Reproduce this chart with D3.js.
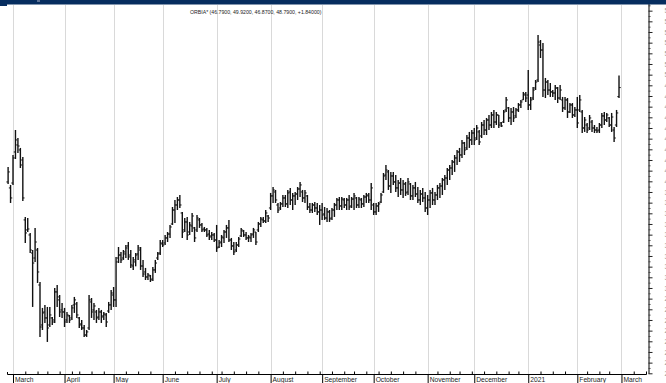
<!DOCTYPE html>
<html><head><meta charset="utf-8">
<script src="https://cdn.jsdelivr.net/npm/d3@7"></script>
<style>body{margin:0;background:#fff;overflow:hidden}svg{display:block}</style>
</head><body>
<svg id="c" width="666" height="383"></svg>
<script>
const title = "ORBIA* (46.7900, 49.9200, 46.8700, 48.7900, +1.84000)";
const firstDay = "2020-02-27";
const lastAxisDay = "2021-03-16";
const holidays = ["2020-03-16","2020-04-09","2020-04-10","2020-05-01","2020-07-03","2020-09-16","2020-11-02","2020-11-16","2020-12-25","2021-01-01","2021-02-01","2021-02-15"];
const monthLabels = ["March","April","May","June","July","August","September","October","November","December","2021","February","March"];

const opens = [
39.94,39.38,39.84,42.75,43.41,42.94,42.0,36.38,35.44,34.97,
33.28,32.81,33.56,30.28,26.53,27.75,27.19,26.53,27.19,27.0,
29.63,28.88,27.94,27.75,27.0,27.38,27.19,28.41,28.5,27.19,
26.63,26.25,25.59,26.25,28.69,27.94,27.75,27.28,27.75,27.38,
27.47,27.84,28.41,29.34,28.88,32.81,33.09,32.81,33.19,33.94,
33.09,32.06,32.44,33.19,33.56,32.06,31.5,31.03,31.13,30.84,
31.69,32.81,33.28,34.13,34.22,34.69,35.06,36.0,37.31,37.78,
38.25,37.03,35.44,36.19,35.25,35.81,35.63,35.44,36.38,35.91,
35.53,35.44,35.06,34.88,34.97,34.5,33.84,34.31,34.69,35.25,
35.63,34.5,33.94,33.56,34.03,34.88,35.34,34.97,34.69,34.69,
35.06,35.25,35.44,36.0,36.38,36.28,36.75,37.5,38.63,39.0,
37.78,37.5,37.88,38.44,37.88,39.0,38.25,38.63,38.81,39.28,
39.0,38.44,38.63,37.59,37.31,37.78,37.5,37.13,37.31,36.94,
36.56,37.13,36.56,37.31,37.78,38.25,37.69,38.25,37.78,38.25,
37.69,38.34,38.44,37.78,38.25,37.88,38.53,38.63,38.25,37.78,
37.13,37.69,38.06,39.0,40.59,40.88,39.56,40.5,39.94,39.38,
39.84,39.19,39.75,39.0,39.75,38.63,39.38,38.81,38.25,38.81,
38.44,37.5,38.25,38.91,38.25,38.72,39.38,39.56,40.13,40.31,
41.06,41.25,41.81,42.19,42.75,42.47,43.59,43.13,44.06,43.88,
44.53,44.06,44.63,44.25,45.28,44.81,45.75,45.28,46.22,45.56,
46.22,45.47,45.56,46.69,46.88,45.94,46.5,46.13,46.69,47.16,
47.63,48.09,48.09,47.16,47.81,48.75,49.5,52.78,52.31,48.56,
49.31,48.56,48.38,48.28,48.75,47.81,47.63,46.88,47.63,46.5,
47.16,46.22,46.69,46.69,46.5,45.0,45.28,45.0,45.56,45.0,
44.81,44.81,45.28,46.13,45.75,45.94,45.28,44.81,45.28,47.94];

const highs = [
41.34,39.66,42.47,44.81,44.06,43.13,42.28,36.66,36.56,35.16,
33.56,35.63,33.75,30.56,28.13,28.41,28.22,28.22,27.28,30.0,
30.28,29.34,28.59,28.13,27.75,27.47,28.41,29.16,28.69,27.28,
27.0,26.53,26.06,29.34,29.06,28.59,27.94,28.13,27.94,27.75,
27.66,28.69,29.81,30.09,32.91,33.84,33.38,33.56,34.03,34.31,
33.56,32.91,33.28,34.03,33.84,32.63,31.88,31.41,31.22,31.97,
32.63,33.38,34.5,34.5,34.97,35.25,35.91,37.59,38.25,38.53,
38.72,37.13,36.56,36.66,36.19,37.03,35.72,36.84,36.56,36.09,
35.72,35.63,35.44,35.25,35.16,35.91,34.5,34.97,35.44,35.91,
36.38,34.69,34.31,34.31,34.78,35.63,35.44,35.25,34.97,35.16,
35.63,35.25,36.19,36.66,36.66,37.31,36.84,38.91,39.47,39.19,
37.97,38.06,38.72,38.72,39.19,39.38,38.91,39.0,39.47,39.94,
39.19,39.19,38.72,37.97,37.97,38.06,37.97,37.78,37.97,37.59,
37.5,37.31,37.5,37.97,38.44,38.53,38.53,38.44,38.44,38.72,
38.53,38.91,38.53,38.53,38.44,38.72,38.91,38.91,39.84,37.97,
37.97,38.06,38.91,40.78,41.53,41.06,40.88,40.88,40.59,40.13,
40.31,40.13,39.94,40.31,39.84,39.66,39.94,39.47,39.19,39.38,
39.0,38.72,39.19,39.38,39.0,39.66,39.84,40.31,40.59,41.25,
41.53,42.0,42.47,42.94,43.13,43.88,43.69,44.34,44.63,44.81,
45.0,45.28,44.81,45.56,45.75,45.94,46.22,46.5,46.69,46.5,
46.22,45.56,46.69,47.91,46.97,46.88,46.97,46.88,47.34,47.63,
48.38,48.38,50.44,47.91,48.84,49.5,53.72,53.25,52.97,49.69,
49.5,49.22,48.56,49.03,48.84,49.03,47.91,47.91,47.81,47.34,
47.34,46.97,47.91,48.09,46.69,46.03,45.47,46.22,45.75,45.28,
45.09,45.47,46.41,46.5,46.41,46.03,46.41,45.09,46.69,49.92];

const lows = [
39.75,37.97,39.66,42.09,42.66,41.25,38.16,34.22,35.25,33.28,
28.22,32.44,30.47,25.41,26.06,26.72,24.94,26.34,26.53,26.72,
28.22,27.28,27.19,26.34,26.72,26.72,27.0,27.66,27.19,26.25,
26.06,25.41,25.41,26.06,27.19,27.0,26.72,27.0,26.72,27.0,
26.34,27.66,27.94,28.22,28.22,32.34,32.34,32.63,32.81,32.63,
31.88,31.69,32.03,32.63,31.69,31.03,30.75,30.75,30.56,30.66,
31.41,32.63,33.09,33.84,34.03,34.31,34.69,35.91,36.09,37.31,
37.5,34.69,35.25,34.5,34.97,35.25,34.31,35.25,35.63,35.25,
35.25,34.78,34.5,34.5,34.31,33.38,33.75,33.84,34.22,34.69,
34.31,33.56,33.09,33.38,33.84,34.78,34.78,34.5,34.31,34.31,
34.69,34.03,35.25,35.72,36.09,36.09,36.19,37.31,37.97,37.97,
37.03,37.31,37.59,37.59,37.5,37.78,37.31,37.78,38.25,38.53,
38.06,37.97,37.31,37.03,37.03,37.13,36.84,35.91,36.38,36.38,
36.19,36.19,36.38,36.66,37.31,37.31,37.31,37.5,37.31,37.31,
37.5,37.31,37.5,37.5,37.5,37.59,37.97,37.97,37.31,36.84,
36.84,37.13,37.97,38.91,40.13,39.19,38.91,39.66,39.0,38.53,
38.72,38.44,38.63,38.72,38.25,38.25,38.53,37.97,37.78,38.06,
37.13,36.84,37.5,37.78,37.78,38.25,38.44,38.72,39.19,39.66,
40.13,40.59,40.88,41.53,41.81,42.19,42.47,42.94,43.13,43.41,
43.41,43.88,43.41,44.06,44.34,44.34,44.81,45.0,45.0,45.28,
45.0,45.09,45.47,46.5,45.56,45.28,45.56,45.94,46.5,46.88,
47.63,47.44,46.69,46.69,47.63,48.56,49.31,51.56,47.91,47.81,
48.09,47.91,47.91,47.63,47.34,47.63,46.5,46.69,45.94,46.41,
45.94,46.03,45.0,46.5,44.53,44.63,44.53,44.81,44.63,44.53,
44.53,44.53,45.0,45.28,45.56,45.09,44.63,43.69,45.09,47.81];

const closes = [
40.88,38.44,42.19,43.88,43.31,41.53,38.44,35.16,35.53,33.56,
32.34,34.31,31.5,26.34,27.66,27.19,26.25,27.47,26.81,29.63,
29.16,27.75,27.75,26.81,27.47,27.0,28.13,28.88,27.47,26.53,
26.25,25.59,25.88,28.88,27.75,28.31,27.19,27.75,27.28,27.56,
26.81,28.41,29.53,28.88,32.44,33.09,32.63,33.38,33.75,32.91,
32.16,32.63,33.09,33.75,32.06,31.31,31.03,31.22,30.75,31.69,
32.34,33.19,34.22,34.03,34.69,35.06,35.72,37.31,37.78,38.25,
37.78,35.25,36.19,34.97,35.91,36.75,34.69,36.56,35.91,35.44,
35.44,34.97,34.78,34.97,34.5,33.75,34.22,34.78,35.25,35.63,
34.5,33.94,33.38,34.03,34.59,35.44,34.97,34.69,34.78,34.97,
35.44,34.31,36.0,36.47,36.28,37.03,36.56,38.63,39.19,38.25,
37.31,37.88,38.44,37.88,38.91,38.25,38.63,38.81,39.28,39.66,
38.44,38.91,37.59,37.31,37.78,37.5,37.13,37.31,36.84,36.56,
37.13,36.47,37.31,37.78,38.25,37.69,38.34,37.78,38.25,37.59,
38.34,38.63,37.78,38.34,37.88,38.53,38.72,38.25,39.38,37.13,
37.69,37.88,38.72,40.5,41.06,39.56,40.5,39.94,39.38,39.84,
39.19,39.75,38.91,39.94,38.63,39.38,38.81,38.25,38.81,38.44,
37.5,38.25,38.91,38.25,38.72,39.38,39.56,40.13,40.31,41.06,
41.25,41.81,42.19,42.75,42.47,43.59,42.94,44.06,43.88,44.53,
43.88,45.0,43.69,45.28,44.81,45.75,45.28,46.22,45.56,46.22,
45.28,45.19,46.5,47.63,45.94,46.5,45.94,46.69,47.16,47.44,
48.19,47.81,47.16,47.63,48.56,49.31,53.06,52.31,48.56,49.31,
48.56,48.38,48.28,48.75,47.81,48.56,46.88,47.63,46.5,47.16,
46.22,46.69,45.47,47.63,45.0,45.75,44.81,45.94,45.0,44.81,
44.72,45.28,46.13,45.75,46.22,45.28,46.03,44.06,46.41,48.79];

// ---- trading-day calendar (categories) ----
const fmt = d3.utcFormat("%Y-%m-%d");
const parse = d3.utcParse("%Y-%m-%d");
const days = d3.utcDays(parse(firstDay), parse(lastAxisDay))
  .filter(d => d.getUTCDay() % 6 !== 0 && !holidays.includes(fmt(d)));
const n = closes.length;

const monthStarts = [];
days.forEach((d, i) => { if (i > 0 && d.getUTCMonth() !== days[i-1].getUTCMonth()) monthStarts.push(i); });
const weekStarts = [];
days.forEach((d, i) => {
  if (i > 0 && (d.getUTCDay() < days[i-1].getUTCDay() || (d - days[i-1]) > 4*864e5) && !monthStarts.includes(i)) weekStarts.push(i);
});

const svg = d3.select("#c");
const x = d3.scaleLinear().domain([-0.45, 260]).range([7, 646]);
const y = d3.scaleLinear().domain([22, 57]).range([373.3, 0]);

// month gridlines
svg.append("g").selectAll("line").data(monthStarts).join("line")
  .attr("x1", i => Math.round(x(i)) + 0.5).attr("x2", i => Math.round(x(i)) + 0.5)
  .attr("y1", 5).attr("y2", 374)
  .attr("stroke", "#d9d9d9").attr("stroke-width", 1);

// OHLC bars
const bars = svg.append("g").attr("stroke", "#111").attr("stroke-width", 1.4);
const idx = d3.range(n);
bars.selectAll("line.hl").data(idx).join("line").attr("class", "hl")
  .attr("x1", i => x(i)).attr("x2", i => x(i))
  .attr("y1", i => y(highs[i])).attr("y2", i => y(lows[i]));
bars.selectAll("line.o").data(idx).join("line").attr("class", "o")
  .attr("stroke-width", 1)
  .attr("x1", i => x(i) - 1.7).attr("x2", i => x(i))
  .attr("y1", i => y(opens[i])).attr("y2", i => y(opens[i]));
bars.selectAll("line.c").data(idx).join("line").attr("class", "c")
  .attr("stroke-width", 1)
  .attr("x1", i => x(i)).attr("x2", i => x(i) + 1.7)
  .attr("y1", i => y(closes[i])).attr("y2", i => y(closes[i]));

// bottom axis: month ticks with labels
const xMajor = d3.axisBottom(x).tickValues(monthStarts)
  .tickSizeInner(9).tickSizeOuter(-2).tickPadding(0)
  .tickFormat((d, k) => monthLabels[k]);
const gx = svg.append("g").attr("transform", "translate(0,374)").call(xMajor);
gx.select(".domain").attr("stroke", "#000");
gx.selectAll(".tick line").attr("stroke", "#000");
gx.selectAll(".tick text")
  .attr("text-anchor", "start").attr("x", 1.5).attr("y", 7.7).attr("dy", 0)
  .attr("font-family", "'Liberation Sans', Arial, sans-serif").attr("font-size", 6.7).attr("fill", "#222");
// weekly minor ticks
const xMinor = d3.axisBottom(x).tickValues(weekStarts).tickSizeInner(-2.5).tickSizeOuter(0).tickFormat("");
const gx2 = svg.append("g").attr("transform", "translate(0,374)").call(xMinor);
gx2.select(".domain").remove();
gx2.selectAll(".tick line").attr("stroke", "#000");

// right axis
const yMajor = d3.axisRight(y).tickValues(d3.range(22, 57, 1)).tickSizeInner(4).tickSizeOuter(0).tickPadding(12)
  .tickFormat(d3.format(".0f"));
const gy = svg.append("g").attr("transform", "translate(648.5,0)").call(yMajor);
gy.select(".domain").attr("stroke", "#000");
gy.selectAll(".tick line").attr("stroke", "#222");
gy.selectAll(".tick text").attr("font-family", "'Liberation Sans', Arial, sans-serif").attr("font-size", 7).attr("fill", "#999");
const yMinor = d3.axisRight(y).tickValues(d3.range(22.5, 57, 1)).tickSizeInner(2).tickSizeOuter(0).tickFormat("");
const gy2 = svg.append("g").attr("transform", "translate(648.5,0)").call(yMinor);
gy2.select(".domain").remove();
gy2.selectAll(".tick line").attr("stroke", "#444");

// header band
svg.append("rect").attr("x", 0).attr("y", 0).attr("width", 666).attr("height", 4.5).attr("fill", "#062d5f");
svg.append("rect").attr("x", 0).attr("y", 4).attr("width", 7).attr("height", 2).attr("fill", "#062d5f");
svg.append("rect").attr("x", 37).attr("y", 0).attr("width", 3).attr("height", 2).attr("fill", "#5d7295");

// title
svg.append("text").attr("x", 190).attr("y", 14.3)
  .attr("font-family", "'Liberation Sans', Arial, sans-serif").attr("font-size", 5.2).attr("fill", "#222")
  .text(title);
</script>
</body></html>
